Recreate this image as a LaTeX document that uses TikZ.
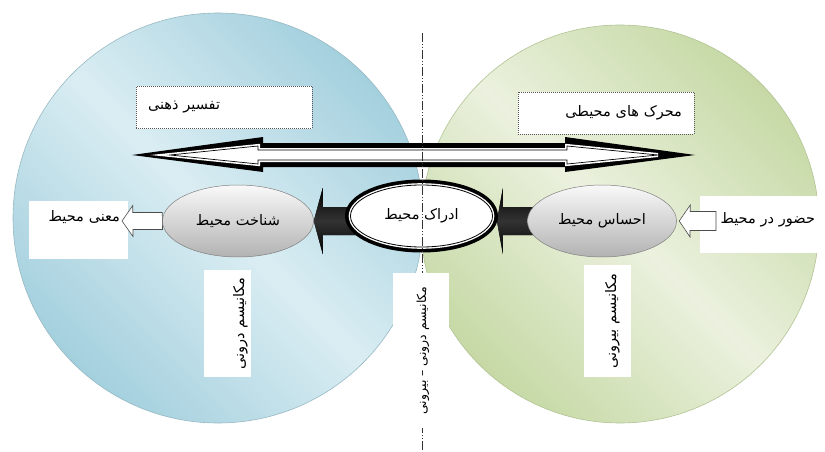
\documentclass[tikz,border=0pt]{standalone}
\usepackage{fontspec}
\newfontfamily\arabicfont[Script=Arabic]{DejaVu Sans}
\TeXXeTstate=1
\usepackage{tikz}
\usetikzlibrary{shapes.geometric,calc,backgrounds}

\definecolor{discblue}{RGB}{164,208,222}
\definecolor{discbluelight}{RGB}{218,237,243}
\definecolor{discgreen}{RGB}{198,217,165}
\definecolor{discgreenlight}{RGB}{235,241,222}

\newcommand{\rl}[1]{\beginR #1\endR}

\tikzset{
  farsi/.style={font=\arabicfont\fontsize{14.5}{17}\selectfont},
  bluedisc/.style={draw=discblue!85!black!90, line width=0.6pt,
    top color=discblue, bottom color=discblue, middle color=discbluelight, shading angle=-45},
  greendisc/.style={draw=discgreen!90!black, line width=0.6pt,
    top color=discgreen, bottom color=discgreen, middle color=discgreenlight, shading angle=-45},
  grayoval/.style={ellipse, farsi, inner sep=0pt, draw=gray, line width=0.5pt,
    top color=gray!5, bottom color=gray!60},
  rimoval/.style={ellipse, farsi, inner sep=0pt, fill=white, draw=black, line width=0.8pt,
    preaction={draw=black, line width=11pt}, preaction={draw=white, line width=3.6pt}},
  arrowcore/.style={fill=white, draw=black, line width=0.7pt,
    preaction={draw=white, line width=4pt}},
  dotbox/.style={rectangle, farsi, fill=white, draw=gray!70!black, line width=0.5pt,
    dash pattern=on 1pt off 1pt, inner xsep=12pt, text width=152pt, minimum height=42pt},
  plainbox/.style={rectangle, farsi, fill=white, inner ysep=3pt},
  sidebox/.style={rectangle, farsi, fill=white, rotate=90, inner sep=2pt},
  darkarrow/.style={top color=black, bottom color=black, middle color=gray!40!black},
  hollowarrow/.style={fill=white, draw=gray!60!black, line width=0.6pt},
  axisline/.style={draw=black!80, line width=0.8pt,
    dash pattern=on 9pt off 2pt on 1pt off 2pt on 1pt off 2pt}
}

\begin{document}
\begin{tikzpicture}[x=1pt,y=-1pt]
\useasboundingbox (0,0) rectangle (825,452);

% the two fields
\begin{scope}[on background layer]
\draw[bluedisc] (218,218) circle (205);
\draw[greendisc] (620,224) circle (199);
\end{scope}

% long two-way arrow
\fill[black] (132,155) -- (263,137) -- (263,143) -- (565,143) -- (565,137) -- (695,155)
  -- (565,172) -- (565,167) -- (263,167) -- (263,172) -- cycle;
\draw[arrowcore] (170,155) -- (258,146) -- (258,150) -- (567,150) -- (567,146) -- (658,155)
  -- (567,164) -- (567,160) -- (258,160) -- (258,164) -- cycle;

\node[dotbox, align=left] (tafsir) at (224,107.5) {\rl{تفسیر ذهنی}};
\node[dotbox, align=right] (moharrek) at (606,113) {\rl{محرک های محیطی}};

% process chain
\node[grayoval, minimum width=151pt, minimum height=72pt] (shenakht) at (238,221) {\rl{شناخت محیط}};
\node[rimoval, minimum width=142pt, minimum height=62pt] (edrak) at (421.5,216) {\rl{ادراک محیط}};
\node[grayoval, minimum width=149pt, minimum height=72pt] (ehsas) at (602,221) {\rl{احساس محیط}};

\node[plainbox, inner xsep=8pt, text width=83pt, align=right, text height=17pt, text depth=35pt]
  (mana) at (78.5,230) {\rl{معنی محیط}};
\node[plainbox, inner xsep=10pt, text width=105pt, align=right, text height=24pt, text depth=27pt]
  (hozur) at (762.5,224.5) {\rl{حضور در محیط}};

\node[sidebox, minimum width=107pt, minimum height=47pt, text height=38pt, text depth=5pt]
  (daruni) at (227.5,323.5) {\rl{مکانیسم درونی}};
\node[sidebox, minimum width=112pt, minimum height=47pt, text height=30pt, text depth=13pt]
  (biruni) at (607.5,321) {\rl{مکانیسم بیرونی}};

\begin{scope}[on background layer]
\fill[darkarrow] (shenakht.east) -- ++(9,-33) -- ++(0,19) -- ++(99,0) -- ++(0,28)
  -- ++(-99,0) -- ++(0,19) -- cycle;
\fill[darkarrow] ($(edrak.east)+(4,5)$) -- ++(6,-33) -- ++(0,19) -- ++(99,0) -- ++(0,28)
  -- ++(-99,0) -- ++(0,19) -- cycle;
\end{scope}

\coordinate (manaTip) at (122,221);
\coordinate (hozurEnd) at (716,221);
\draw[hollowarrow] ($(shenakht.west)+(0,-8.5)$) -- ++(-29.5,0) -- ++(0,-7) -- (manaTip)
  -- ++(11,15.5) -- ++(0,-7) -- ++(29.5,0) -- cycle;
\draw[hollowarrow] ($(ehsas.east)+(2.5,0)$) -- ++(11,-16) -- ++(0,6.5) -- ($(hozurEnd)+(0,-9.5)$)
  -- ++(0,19) -- ++(-26,0) -- ++(0,6.5) -- cycle;

% border between inside and outside
\coordinate (axisTop) at (422,33);
\coordinate (axisBot) at (422,452);
\draw[axisline] (axisTop) -- (axisBot);

\node[sidebox, font=\arabicfont\fontsize{12.5}{15}\selectfont, minimum width=155pt,
  minimum height=56pt, text height=31pt, text depth=21pt]
  (miane) at (421,350.5) {\rl{مکانیسم درونی – بیرونی}};
\end{tikzpicture}
\end{document}
